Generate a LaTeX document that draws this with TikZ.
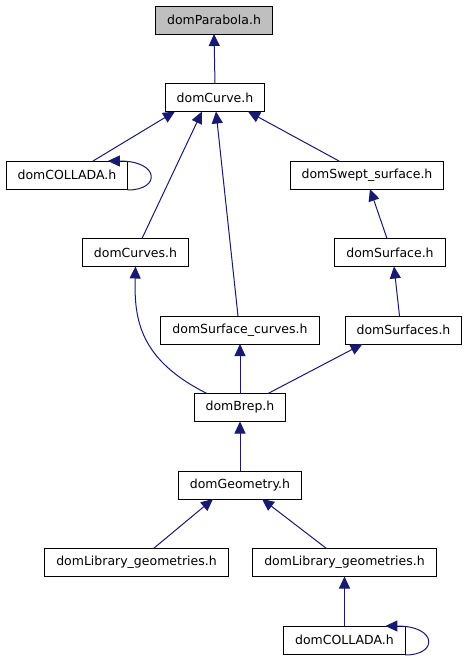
\documentclass[tikz,border=0pt]{standalone}
\usepackage{fontspec}
\setmainfont{DejaVu Sans}
\usepackage{xcolor}
\usepackage{tikz}
\usetikzlibrary{arrows.meta, positioning}

\definecolor{edgeblue}{HTML}{191970}
\definecolor{hilite}{HTML}{BFBFBF}

\begin{document}
\begin{tikzpicture}[
        x=1pt, y=-1pt,
        node distance=49.5pt and 20pt,
        every node/.style={font=\fontsize{12.5}{14}\selectfont},
        file/.style={draw=black, line width=1pt, fill=white, minimum height=28pt, inner xsep=11.5pt, inner ysep=0pt, outer sep=0pt},
        top/.style={file, fill=hilite},
        edge/.style={draw=edgeblue, line width=1pt, -{Triangle[length=12pt, width=11pt]}},
    ]
    \useasboundingbox (0,0) rectangle (467,659);

    % ── Files, top to bottom ──
    \node[top] (parabola) at (214,20) {domParabola.h};
    \node[file, below=of parabola, xshift=1pt] (curve) {domCurve.h};
    \node[file, below=of curve, xshift=-148pt] (collada1) {domCOLLADA.h};
    \node[file, below=of curve, xshift=152pt] (swept) {domSwept\_surface.h};
    \node[file, below=of collada1, xshift=68.5pt] (curves) {domCurves.h};
    \node[file, below=of swept, xshift=23pt] (surface) {domSurface.h};
    \node[file, below=of curves, xshift=104.5pt] (surfcurves) {domSurface\_curves.h};
    \node[file, below=of surface, xshift=13.5pt] (surfaces) {domSurfaces.h};
    \node[file, below=of surfcurves] (brep) {domBrep.h};
    \node[file, below=of brep] (geometry) {domGeometry.h};
    \node[file, below=of geometry, xshift=-103.5pt] (lib1) {domLibrary\_geometries.h};
    \node[file, below=of geometry, xshift=104.5pt] (lib2) {domLibrary\_geometries.h};
    \node[file, below=of lib2] (collada2) {domCOLLADA.h};

    % ── Include edges ──
    \draw[edge] (curve.north) -- (parabola.south);
    \draw[edge] ([xshift=26pt]collada1.north) -- ([xshift=-40pt]curve.south);
    \draw[edge] ([xshift=6.5pt]curves.north) -- ([xshift=-13pt]curve.south);
    \draw[edge] ([xshift=-2pt]surfcurves.north) -- ([xshift=1pt]curve.south);
    \draw[edge] ([xshift=-28pt]swept.north) -- ([xshift=33pt]curve.south);
    \draw[edge] ([xshift=-3pt]surface.north) -- ([xshift=3pt]swept.south);
    \draw[edge] ([xshift=-4pt]surfaces.north) -- ([xshift=4pt]surface.south);
    \draw[edge] ([xshift=-33pt]brep.north) .. controls (140,360) and (134,320) .. (curves.south);
    \draw[edge] (brep.north) -- (surfcurves.south);
    \draw[edge] ([xshift=28pt]brep.north) -- ([xshift=-41pt]surfaces.south);
    \draw[edge] (geometry.north) -- (brep.south);
    \draw[edge] ([xshift=17pt]lib1.north) -- ([xshift=-27pt]geometry.south);
    \draw[edge] ([xshift=-18pt]lib2.north) -- ([xshift=22pt]geometry.south);
    \draw[edge] (collada2.north) -- (lib2.south);

    % ── Self includes ──
    \draw[edge] ([yshift=-1pt]collada1.south east) .. controls +(33pt,0) and +(52pt,0) .. ([xshift=-20pt]collada1.north east);
    \draw[edge] ([yshift=-1pt]collada2.south east) .. controls +(33pt,0) and +(52pt,0) .. ([xshift=-20pt]collada2.north east);

\end{tikzpicture}
\end{document}
